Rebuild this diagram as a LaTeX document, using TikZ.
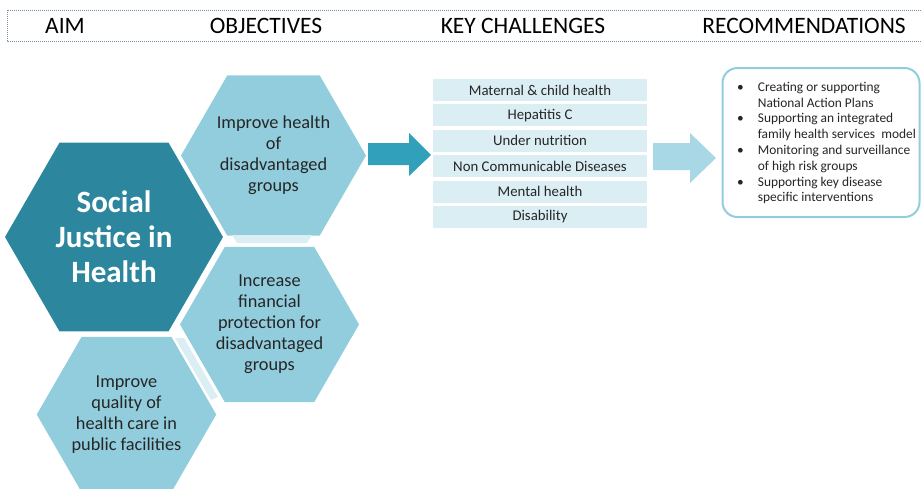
\documentclass[tikz,border=0pt]{standalone}
\usepackage{fontspec}
\setmainfont{Carlito}
\usetikzlibrary{shapes}
\usetikzlibrary{positioning}

\definecolor{hexdark}{RGB}{44,134,158}
\definecolor{hexlight}{RGB}{146,205,221}
\definecolor{palefill}{RGB}{219,238,244}
\definecolor{arrowdark}{RGB}{49,160,186}
\definecolor{arrowlight}{RGB}{168,216,229}
\definecolor{headline}{RGB}{120,144,170}
\definecolor{bodytext}{RGB}{38,38,38}

\begin{document}
\begin{tikzpicture}[x=1pt, y=-1pt,
    hexbase/.style={regular polygon, regular polygon sides=6, inner sep=0pt, align=center},
    hexmain/.style={hexbase, fill=hexdark, minimum size=218pt, text=white, font=\fontsize{31}{35}\selectfont\bfseries},
    hexobj/.style={hexbase, fill=hexlight, minimum size=179pt, text=bodytext, font=\fontsize{18.3}{21}\selectfont},
    challenge/.style={fill=palefill, minimum width=214pt, minimum height=22pt, inner sep=0pt, text=bodytext, font=\fontsize{14.8}{17}\selectfont},
    heading/.style={font=\fontsize{23.5}{27}\selectfont, text=black}]

    \useasboundingbox (0,0) rectangle (921,488);

    % header strip
    \draw[headline, densely dotted, line width=1pt] (7,10) rectangle (930,41);
    \node(H1)[heading] at (65,26) {AIM};
    \node(H2)[heading] at (266,26) {OBJECTIVES};
    \node(H3)[heading] at (523,26) {KEY CHALLENGES};
    \node(H4)[heading] at (804,26) {RECOMMENDATIONS};

    \node(M)[hexmain] at (114,237) {Social\\Justice in\\Health};
    \node(O1)[hexobj] at (273.5,155.5) {Improve health\\of\\disadvantaged\\groups};
    \node(O2)[hexobj] at (269.5,324.5) {Increase\\financial\\protection for\\disadvantaged\\groups};
    \node(O3)[hexobj] at (126.5,414.5) {Improve\\quality of\\health care in\\public facilities};

    \fill[palefill] (232,235) -- (312,235) -- (307,243) -- (237,243) -- cycle;
    \fill[palefill] (175,338) -- (184,338) -- (218,397) -- (211,400) -- cycle;

    \fill[arrowdark] (368,143) -- (409,143) -- (409,133) -- (431,155) -- (409,176) -- (409,165) -- (368,165) -- cycle;

    \node(C1)[challenge] at (540,90) {Maternal \& child health};
    \node(C2)[challenge, below=3pt of C1] {Hepatitis C};
    \node(C3)[challenge, below=3pt of C2] {Under nutrition};
    \node(C4)[challenge, below=3pt of C3] {Non Communicable Diseases};
    \node(C5)[challenge, below=3pt of C4] {Mental health};
    \node(C6)[challenge, below=3pt of C5] {Disability};

    \fill[arrowlight] (653,143) -- (690,143) -- (690,133) -- (716,158) -- (690,183) -- (690,170) -- (653,170) -- cycle;

    \node(R)[draw=hexlight, line width=2pt, rounded corners=15pt, fill=white, minimum width=197pt, minimum height=149pt, inner sep=0pt] at (821,142.5) {};
    \node(RT)[anchor=west, inner sep=0pt, text=bodytext, font=\fontsize{13.4}{15.8}\selectfont] at (737,143.5) {%
      \begin{tabular}{@{}l@{\hspace{14pt}}l@{}}
        \textbullet & Creating or supporting\\
                    & National Action Plans\\
        \textbullet & Supporting an integrated\\
                    & family health services\ \ model\\
        \textbullet & Monitoring and surveillance\\
                    & of high risk groups\\
        \textbullet & Supporting key disease\\
                    & specific interventions
      \end{tabular}};

\end{tikzpicture}
\end{document}
